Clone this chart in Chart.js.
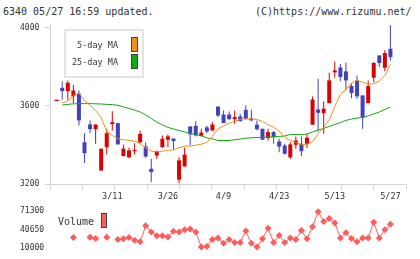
<!DOCTYPE html>
<html>
<head>
<meta charset="utf-8">
<script src="https://cdn.jsdelivr.net/npm/chart.js@4"></script>
<style>
  body { margin: 0; background: #fff; width: 420px; height: 259px; overflow: hidden; position: relative;
         font-family: "DejaVu Sans Mono", monospace; color: #333; }
  .hdr { position: absolute; top: 6px; font-size: 10px; line-height: 12px; white-space: pre; }
  #c1 { position: absolute; left: 0; top: 0; }
  #c2 { position: absolute; left: 0; top: 200px; }
</style>
</head>
<body>
<div class="hdr" style="left:3px">6340 05/27 16:59 updated.</div>
<div class="hdr" style="left:255px">(C)https://www.rizumu.net/</div>
<canvas id="c1" width="420" height="205"></canvas>
<canvas id="c2" width="420" height="59"></canvas>
<script>
  // date labels (every 10 sessions)
  const dateLabels = ['3/11', '3/26', '4/9', '4/23', '5/13', '5/27'];
  const dateIdx = [10, 20, 30, 40, 50, 60];
  const priceTicks = [3200, 3600, 4000];
  const volTicks = [10000, 40650, 71300];

  // daily prices, oldest first
  const opens  = [3625,3693,3676,3650,3663,3414,3505,3481,3269,3389,3507,3512,3343,3337,3368,3414,3392,3278,3346,3389,
                  3427,3433,3222,3290,3495,3498,3447,3490,3474,3597,3556,3556,3532,3546,3580,3536,3504,3483,3435,3466,
                  3418,3397,3337,3401,3406,3406,3504,3582,3563,3614,3772,3797,3777,3702,3731,3654,3614,3745,3859,3796,3893];
  const highs  = [3632,3726,3731,3709,3679,3460,3526,3505,3381,3483,3573,3512,3403,3386,3409,3474,3414,3329,3372,3449,
                  3454,3433,3337,3386,3495,3521,3483,3498,3517,3597,3577,3572,3577,3560,3603,3580,3526,3483,3483,3471,
                  3432,3406,3414,3444,3444,3457,3649,3739,3623,3770,3828,3816,3823,3714,3756,3654,3731,3825,3859,3885,4013];
  const lows   = [3625,3632,3632,3615,3500,3307,3460,3406,3269,3351,3474,3403,3343,3332,3351,3408,3334,3209,3329,3385,
                  3389,3375,3204,3290,3397,3444,3447,3460,3474,3543,3512,3529,3509,3522,3529,3522,3474,3427,3423,3406,
                  3363,3351,3329,3381,3343,3384,3504,3469,3457,3614,3745,3726,3680,3640,3637,3483,3614,3722,3799,3778,3833];
  const closes = [3632,3676,3719,3679,3526,3358,3481,3505,3381,3460,3517,3403,3381,3372,3374,3457,3341,3261,3367,3432,
                  3444,3420,3321,3351,3454,3449,3464,3469,3505,3551,3512,3532,3543,3522,3534,3526,3481,3427,3466,3440,
                  3392,3355,3403,3423,3368,3437,3633,3565,3586,3731,3782,3748,3731,3666,3649,3540,3702,3820,3820,3871,3850];
  const ma5  = [null,3616,3625,3654,3666,3628,3603,3577,3540,3470,3449,3432,3427,3423,3420,3406,3386,3368,3365,3368,
                3373,3375,3386,3394,3394,3399,3404,3413,3444,3483,3498,3512,3522,3531,3534,3534,3531,3521,3504,3491,
                3471,3440,3423,3413,3403,3403,3418,3457,3491,3529,3597,3659,3685,3717,3731,3722,3710,3714,3727,3756,3813];
  const ma25 = [null,3605,3608,3611,3612,3612,3612,3611,3610,3608,3607,3603,3595,3587,3579,3569,3554,3536,3517,3503,
                3490,3482,3474,3467,3459,3454,3446,3437,3431,3423,3423,3423,3427,3430,3435,3437,3438,3439,3441,3442,
                3444,3446,3454,3454,3454,3456,3467,3476,3485,3495,3505,3515,3526,3533,3538,3541,3549,3559,3569,3582,3595];
  const volume = [null,null,null,26900,null,null,27600,25300,null,27600,null,23800,24900,27300,22300,19700,46800,36500,29900,29900,
                  27900,37600,36500,40200,41700,36500,11100,12000,23800,26400,17200,23800,18700,18700,38000,17200,11100,24900,42600,18700,
                  30400,18700,26400,23800,39100,24900,45200,70800,54400,59500,51800,26400,35000,25300,19700,26400,26400,52900,26400,40200,49400];

  const RED = '#dd0000', BLUE = '#4242bd', ORANGE = '#f0901e', GREEN = '#12a812', VOL = '#ff5c5c', AXIS = '#d4d4d4';
  const xMin = -1.2, xMax = 62.8;
  const idx = opens.map((_, i) => i);
  const candleColors = idx.map(i => closes[i] >= opens[i] ? RED : BLUE);
  const smallFont = { family: 'DejaVu Sans Mono', size: 8 };
  const plain = v => String(v);

  function evenTicks(scale) {
    const t = [];
    for (let k = 0; k <= 11; k++) t.push({ value: xMin + k * (xMax - xMin) / 11 });
    scale.ticks = t;
  }

  const priceOverlay = {
    id: 'priceOverlay',
    afterDraw(chart) {
      const ctx = chart.ctx, x = chart.scales.x, area = chart.chartArea;
      ctx.save();
      ctx.fillStyle = '#333';
      ctx.font = '8.5px "DejaVu Sans Mono"';
      ctx.textAlign = 'center';
      ctx.textBaseline = 'middle';
      dateIdx.forEach((d, k) => ctx.fillText(dateLabels[k], x.getPixelForValue(d), area.bottom + 13));
      // legend box
      ctx.fillStyle = '#fff';
      ctx.fillRect(65, 30, 78, 47);
      ctx.strokeStyle = '#dadada';
      ctx.lineWidth = 1.5;
      ctx.strokeRect(65, 30, 78, 47);
      ctx.fillStyle = '#333';
      ctx.textAlign = 'right';
      ctx.fillText('5-day MA', 118, 46);
      ctx.fillText('25-day MA', 118, 63);
      ctx.lineWidth = 1;
      ctx.strokeStyle = '#444';
      ctx.fillStyle = ORANGE;
      ctx.fillRect(131.5, 37.5, 6, 14); ctx.strokeRect(131.5, 37.5, 6, 14);
      ctx.fillStyle = GREEN;
      ctx.fillRect(131.5, 54.5, 6, 14); ctx.strokeRect(131.5, 54.5, 6, 14);
      ctx.restore();
    }
  };

  new Chart(document.getElementById('c1'), {
    type: 'bar',
    data: {
      datasets: [
        { type: 'line', data: idx.map(i => ({ x: i, y: ma5[i] })), borderColor: ORANGE, borderWidth: 1,
          pointRadius: 0, tension: 0, order: 0 },
        { type: 'line', data: idx.map(i => ({ x: i, y: ma25[i] })), borderColor: GREEN, borderWidth: 1,
          pointRadius: 0, tension: 0, order: 0 },
        { data: idx.map(i => ({ x: i, y: [opens[i], closes[i]] })), backgroundColor: candleColors,
          grouped: false, maxBarThickness: 5, order: 1 },
        { data: idx.map(i => ({ x: i, y: [lows[i], highs[i]] })), backgroundColor: candleColors,
          grouped: false, maxBarThickness: 1, order: 2 }
      ]
    },
    options: {
      responsive: false,
      animation: false,
      layout: { padding: { left: 20, right: 14, top: 24, bottom: 0 } },
      plugins: { legend: { display: false }, tooltip: { enabled: false } },
      scales: {
        x: {
          type: 'linear', min: xMin, max: xMax, offset: false,
          afterBuildTicks: evenTicks,
          afterFit: s => { s.height = 21; },
          ticks: { callback: () => '', autoSkip: false, font: smallFont },
          grid: { offset: false, drawOnChartArea: false, tickLength: 5, color: AXIS },
          border: { color: AXIS }
        },
        y: {
          min: 3200, max: 4020,
          afterBuildTicks: s => { s.ticks = priceTicks.map(v => ({ value: v })); },
          afterFit: s => { s.width = 30; },
          ticks: { crossAlign: 'far', color: '#333', font: smallFont, padding: 2, callback: plain },
          grid: { drawOnChartArea: false, tickLength: 5, color: AXIS },
          border: { color: AXIS }
        }
      }
    },
    plugins: [priceOverlay]
  });

  const volOverlay = {
    id: 'volOverlay',
    afterDraw(chart) {
      const ctx = chart.ctx;
      ctx.save();
      ctx.fillStyle = '#333';
      ctx.font = '10px "DejaVu Sans Mono"';
      ctx.textBaseline = 'middle';
      ctx.fillText('Volume', 58, 22);
      ctx.fillStyle = VOL;
      ctx.strokeStyle = '#444';
      ctx.lineWidth = 1;
      ctx.fillRect(101.5, 13.5, 5, 14);
      ctx.strokeRect(101.5, 13.5, 5, 14);
      ctx.restore();
    }
  };

  new Chart(document.getElementById('c2'), {
    type: 'line',
    data: {
      datasets: [{
        data: idx.map(i => ({ x: i, y: volume[i] })),
        borderColor: VOL, backgroundColor: VOL, borderWidth: 1,
        pointStyle: 'rectRot', pointRadius: 3.5, pointBorderWidth: 0,
        spanGaps: false, tension: 0
      }]
    },
    options: {
      responsive: false,
      animation: false,
      layout: { padding: { left: 20, right: 14, top: 5, bottom: 6 } },
      plugins: { legend: { display: false }, tooltip: { enabled: false } },
      scales: {
        x: { type: 'linear', min: xMin, max: xMax, display: false },
        y: {
          min: 3870, max: 77430,
          afterBuildTicks: s => { s.ticks = volTicks.map(v => ({ value: v })); },
          afterFit: s => { s.width = 30; },
          ticks: { crossAlign: 'far', color: '#333', font: smallFont, callback: plain },
          grid: { display: false },
          border: { display: false }
        }
      }
    },
    plugins: [volOverlay]
  });
</script>
</body>
</html>
